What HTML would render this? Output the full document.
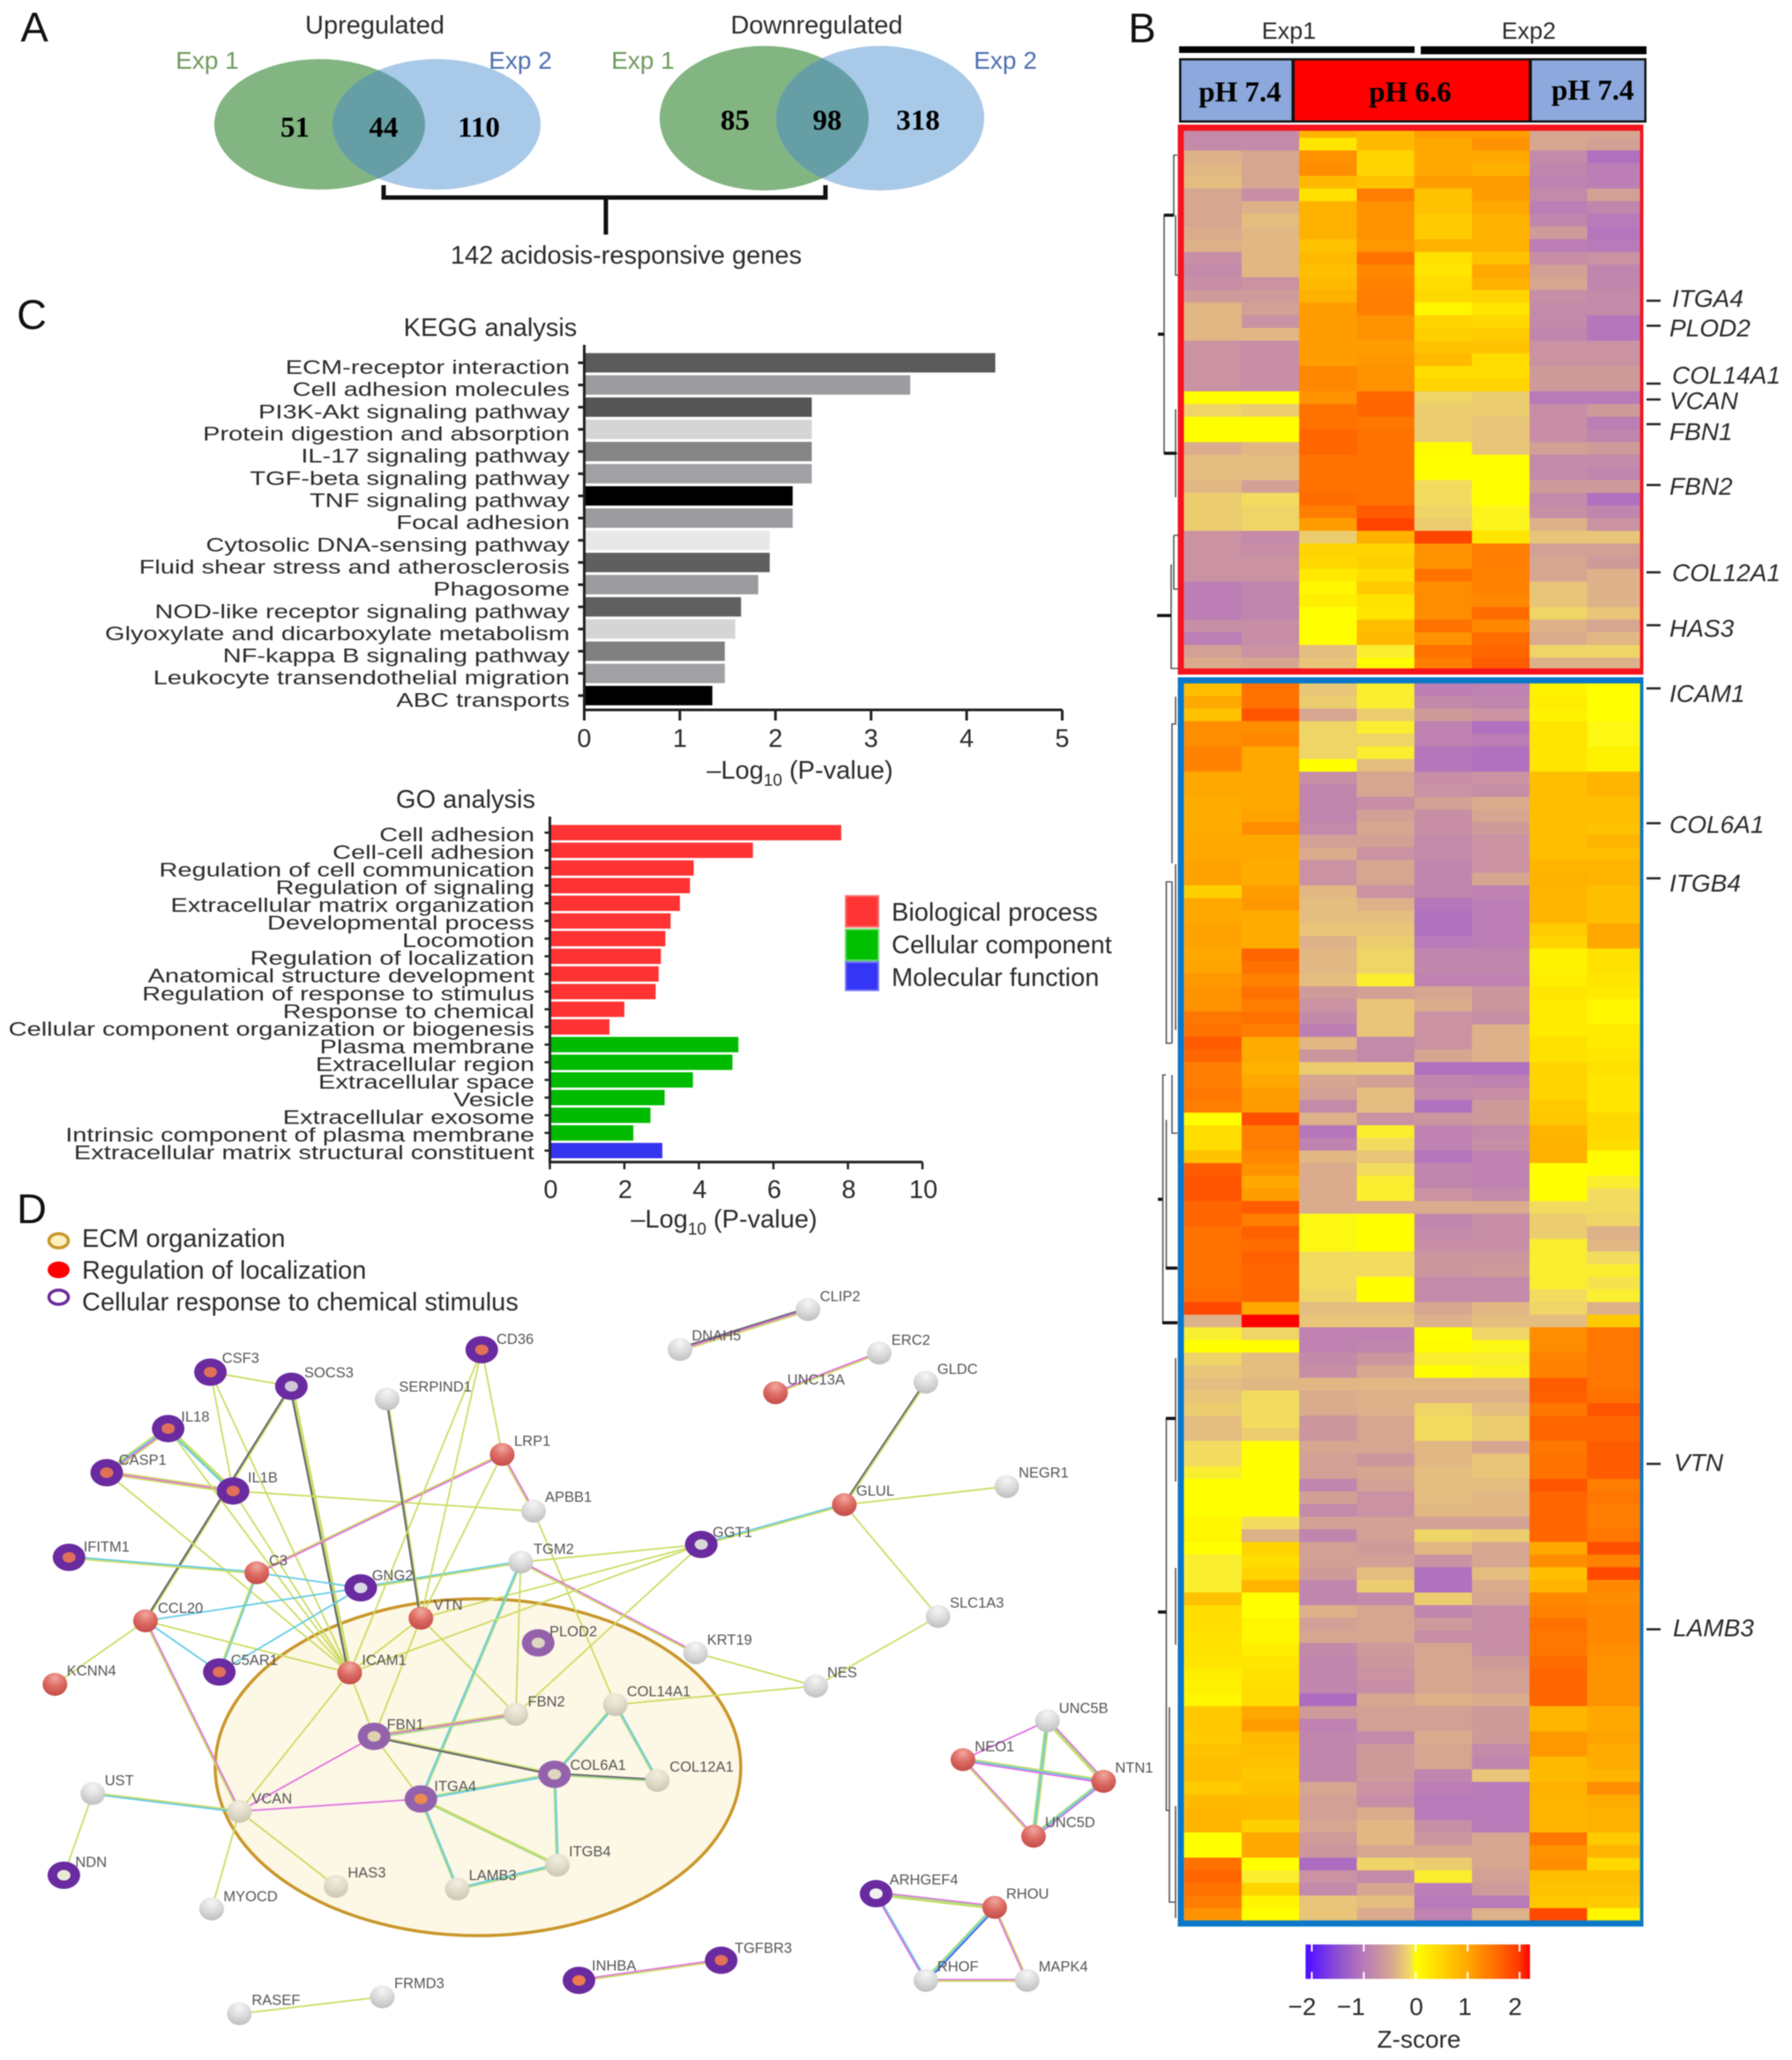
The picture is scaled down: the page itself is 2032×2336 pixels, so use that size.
<!DOCTYPE html>
<html lang="en">
<head>
<meta charset="utf-8">
<title>Acidosis-responsive genes figure</title>
<style>
html,body{margin:0;padding:0;background:#fff;width:2032px;height:2336px;overflow:hidden}
svg{display:block;filter:blur(0.5px)}
text{font-family:"Liberation Sans",Arial,sans-serif;fill:#2b2b2b}
.serif{font-family:"Liberation Serif","Times New Roman",serif;font-weight:bold;fill:#000}
.t29{font-size:29px}
.letter{font-size:47px;fill:#111}
.gene{font-size:28px;font-style:italic}
.nl{font-size:16.5px;fill:#555}
</style>
</head>
<body>
<svg id="fig" xmlns="http://www.w3.org/2000/svg" width="2032" height="2336" viewBox="0 0 2032 2336">
<defs>
<radialGradient id="gGray" cx="50%" cy="22%" r="80%"><stop offset="0" stop-color="#f6f6f6"/><stop offset="0.5" stop-color="#dcdcdc"/><stop offset="1" stop-color="#bdbdbd"/></radialGradient>
<radialGradient id="gBeige" cx="50%" cy="22%" r="80%"><stop offset="0" stop-color="#f3efe0"/><stop offset="0.5" stop-color="#e2dccb"/><stop offset="1" stop-color="#c9c3b0"/></radialGradient>
<radialGradient id="gRed" cx="50%" cy="22%" r="80%"><stop offset="0" stop-color="#f0a8a0"/><stop offset="0.5" stop-color="#dd6a62"/><stop offset="1" stop-color="#c04a48"/></radialGradient>
</defs>

<!-- Panel A -->
<g>
<text class="letter" x="39" y="47" text-anchor="middle">A</text>
<text class="t29" x="425" y="38" text-anchor="middle">Upregulated</text>
<text class="t29" x="926" y="38" text-anchor="middle">Downregulated</text>
<text x="235" y="78" font-size="28" text-anchor="middle" style="fill:#6f9a5c">Exp 1</text>
<text x="590" y="78" font-size="28" text-anchor="middle" style="fill:#4d6fb0">Exp 2</text>
<text x="729" y="78" font-size="28" text-anchor="middle" style="fill:#6f9a5c">Exp 1</text>
<text x="1140" y="78" font-size="28" text-anchor="middle" style="fill:#4d6fb0">Exp 2</text>
<clipPath id="cUp"><ellipse cx="362.5" cy="141" rx="119.5" ry="74"/></clipPath>
<clipPath id="cDown"><ellipse cx="866.5" cy="134" rx="118.5" ry="82"/></clipPath>
<ellipse cx="362.5" cy="141" rx="119.5" ry="74" fill="#82b581"/>
<ellipse cx="495" cy="141" rx="118" ry="74" fill="#a8c9e8"/>
<ellipse cx="495" cy="141" rx="118" ry="74" fill="#659fa5" clip-path="url(#cUp)"/>
<ellipse cx="866.5" cy="134" rx="118.5" ry="82" fill="#82b581"/>
<ellipse cx="998" cy="134" rx="118" ry="82" fill="#a8c9e8"/>
<ellipse cx="998" cy="134" rx="118" ry="82" fill="#659fa5" clip-path="url(#cDown)"/>
<g font-size="33" text-anchor="middle">
<text class="serif" x="334.5" y="155">51</text>
<text class="serif" x="435" y="155">44</text>
<text class="serif" x="543" y="155">110</text>
<text class="serif" x="833.5" y="147">85</text>
<text class="serif" x="938" y="147">98</text>
<text class="serif" x="1041" y="147">318</text>
</g>
<path d="M435 210 V224 H936 V210 M687 224 V266" fill="none" stroke="#111" stroke-width="5"/>
<text class="t29" x="710" y="299" text-anchor="middle">142 acidosis-responsive genes</text>
</g>

<!-- Panel C static -->
<text class="letter" x="36" y="373" text-anchor="middle">C</text>
<text class="t29" x="556" y="381" text-anchor="middle">KEGG analysis</text>
<text class="t29" x="907" y="883" text-anchor="middle">–Log<tspan font-size="19" dy="8">10</tspan><tspan dy="-8"> (P-value)</tspan></text>
<text class="t29" x="528" y="916" text-anchor="middle">GO analysis</text>
<text class="t29" x="821" y="1392" text-anchor="middle">–Log<tspan font-size="19" dy="8">10</tspan><tspan dy="-8"> (P-value)</tspan></text>
<g id="kegg"></g>
<g id="go"></g>
<g>
<rect x="959" y="1016" width="37" height="35" fill="#ff3535" stroke="#ff7070" stroke-width="2"/>
<rect x="959" y="1054" width="37" height="35" fill="#00c000" stroke="#60d860" stroke-width="2"/>
<rect x="959" y="1091" width="37" height="32" fill="#3535f5" stroke="#7a7aff" stroke-width="2"/>
<text class="t29" x="1011" y="1044">Biological process</text>
<text class="t29" x="1011" y="1081">Cellular component</text>
<text class="t29" x="1011" y="1118">Molecular function</text>
</g>

<!-- Panel B static -->
<text class="letter" x="1295" y="48" text-anchor="middle">B</text>
<text x="1461.5" y="44" font-size="27" text-anchor="middle">Exp1</text>
<text x="1733.5" y="44" font-size="27" text-anchor="middle">Exp2</text>
<rect x="1337" y="52.5" width="267" height="7.5" fill="#000"/>
<rect x="1611" y="52.5" width="256" height="9" fill="#000"/>
<g>
<rect x="1337" y="66" width="530" height="73" fill="#111"/>
<rect x="1339.5" y="68.5" width="125" height="68" fill="#8ca8dc"/>
<rect x="1468" y="68.5" width="265.5" height="68" fill="#ff0000"/>
<rect x="1737" y="68.5" width="127.5" height="68" fill="#8ca8dc"/>
<g font-size="33" text-anchor="middle">
<text class="serif" x="1406" y="115">pH 7.4</text>
<text class="serif" x="1599" y="115">pH 6.6</text>
<text class="serif" x="1806" y="113">pH 7.4</text>
</g>
</g>
<g id="heat"></g>
<rect x="1339" y="144.8" width="524.2" height="616.7" fill="none" stroke="#f5141e" stroke-width="7"/>
<rect x="1339" y="771.5" width="524.2" height="1409.7" fill="none" stroke="#0a78c8" stroke-width="7"/>
<rect x="1863.5" y="141" width="8" height="2050" fill="#fff"/>
<path fill="none" stroke="#555" stroke-width="1.6" d="
M1335 176 H1331 V244 H1320 V514 H1335 M1333 244 V312 H1336 M1333 464 V564 M1331 607 H1336 M1331 607 V668 H1336 M1328 640 V758 H1336
M1333 790 V821 H1329 V979 M1329 1000 H1322.5 V1183 H1329 M1329 1000 V1183 M1333 980 V1168 M1322 1219 H1318.6 V1500 H1336 M1329 1219 V1285 H1335 M1322.5 1270 V1438 H1336
M1322.5 1608.5 V2053 H1326 M1333 1540 V1680 M1333 1778 V1865 M1326 1936 V2157 H1332 M1333 2048 V2175"/>
<path fill="none" stroke="#111" stroke-width="3.5" d="M1313 379 H1320 M1312 698 H1328 M1313 1360 H1318 M1322 1438 H1335 M1318 1500 H1335 M1322 1608.5 H1333 M1313 1828 H1322.5 M1320 244 H1331 M1320 514 H1334"/>
<g id="genes"></g>
<g id="cbar"></g>
<text x="1609" y="2322" font-size="28" text-anchor="middle">Z-score</text>

<!-- Panel D static -->
<text class="letter" x="36" y="1387" text-anchor="middle">D</text>
<g>
<ellipse cx="66.5" cy="1407" rx="11" ry="8" fill="#fdf0c0" stroke="#c9962a" stroke-width="3.5"/>
<ellipse cx="66.5" cy="1440" rx="12.5" ry="9.5" fill="#ff0000"/>
<ellipse cx="66.5" cy="1471" rx="11" ry="8" fill="#fff" stroke="#6a2a9a" stroke-width="3.5"/>
<text x="93" y="1414" font-size="29">ECM organization</text>
<text x="93" y="1450" font-size="29">Regulation of localization</text>
<text x="93" y="1486" font-size="29">Cellular response to chemical stimulus</text>
</g>
<ellipse cx="542" cy="2004" rx="298" ry="191" fill="#fdf7e5" stroke="#c9962a" stroke-width="3.5"/>
<g id="net"></g>
</svg>

<script>
// ---------- KEGG data ----------
const keggCategories = ["ECM-receptor interaction","Cell adhesion molecules","PI3K-Akt signaling pathway","Protein digestion and absorption","IL-17 signaling pathway","TGF-beta signaling pathway","TNF signaling pathway","Focal adhesion","Cytosolic DNA-sensing pathway","Fluid shear stress and atherosclerosis","Phagosome","NOD-like receptor signaling pathway","Glyoxylate and dicarboxylate metabolism","NF-kappa B signaling pathway","Leukocyte transendothelial migration","ABC transports"];
const keggValues = [4.30,3.41,2.38,2.38,2.38,2.38,2.18,2.18,1.94,1.94,1.82,1.64,1.58,1.47,1.47,1.34];
const keggTicks = [0,1,2,3,4,5];
const keggShades = ["#5a5a5a","#9b9ba0","#555555","#d5d5d5","#858585","#a0a0a5","#000000","#9b9ba0","#e8e8e8","#5f5f5f","#9b9ba0","#606060","#d5d5d5","#808080","#a0a0a5","#000000"];

// ---------- GO data ----------
const goCategories = ["Cell adhesion","Cell-cell adhesion","Regulation of cell communication","Regulation of signaling","Extracellular matrix organization","Developmental process","Locomotion","Regulation of localization","Anatomical structure development","Regulation of response to stimulus","Response to chemical","Cellular component organization or biogenesis","Plasma membrane","Extracellular region","Extracellular space","Vesicle","Extracellular exosome","Intrinsic component of plasma membrane","Extracellular matrix structural constituent"];
const goValues = [7.82,5.45,3.86,3.76,3.49,3.24,3.10,2.98,2.92,2.84,2.0,1.6,5.06,4.9,3.84,3.08,2.7,2.24,3.02];
const goGroups = ["bp","bp","bp","bp","bp","bp","bp","bp","bp","bp","bp","bp","cc","cc","cc","cc","cc","cc","mf"];
const goTicks = [0,2,4,6,8,10];

// ---------- Heatmap data (z-scores; columns are 8 samples) ----------
const upperClusterRows = [
[-.8,-.8,.9,.8,1.1,1.1,-.5,-.5],[-.8,-.8,.3,.8,1,1.2,-.5,-.55],[-.4,-.5,1.2,.5,1,1,-.8,-1.1],[-.35,-.5,1.25,.5,1,.9,-.85,-.95],
[-.3,-.5,.8,.7,1.1,1.1,-.9,-.95],[-.5,-.75,.35,1.4,.7,1.1,-.8,-.55],[-.5,-.4,.9,1.2,.7,1,-.95,-.85],[-.5,-.3,.9,1.2,.6,.9,-.85,-1],
[-.45,-.35,.9,1.2,.6,.9,-.6,-1.05],[-.4,-.35,.7,1.15,.9,.9,-.95,-1],[-.75,-.35,.8,1.5,.35,.7,-.75,-.7],[-.8,-.35,.75,1.3,.3,1,-.55,-.85],
[-.75,-.7,.8,1.35,.4,.9,-.5,-.85],[-.6,-.6,.9,1.4,.45,.5,-.75,-.8],[-.35,-.55,1.1,1.4,.1,.3,-.8,-.8],[-.35,-.7,1.1,1.2,.5,.45,-.8,-1.05],
[-.35,-.35,1.1,1.2,.55,.6,-.85,-1.05],[-.7,-.75,1.1,1.1,.7,.7,-.7,-.7],[-.7,-.75,1.1,1.15,.8,.4,-.7,-.7],[-.7,-.75,1.3,1.2,.4,.4,-.6,-.6],
[-.7,-.75,1.3,1.2,.5,.5,-.6,-.6],[0,0,1.2,1.6,-.15,-.2,-1,-1],[-.15,-.2,1.5,1.6,-.2,-.2,-.75,-.6],[0,0,1.5,1.45,-.2,-.25,-.75,-.95],
[0,0,1.6,1.5,-.2,-.25,-.75,-.85],[-.45,-.35,1.6,1.5,.05,-.25,-.55,-.6],[-.3,-.3,1.5,1.5,0,0,-.8,-.8],[-.3,-.3,1.5,1.5,0,0,-.8,-.85],
[-.35,-.55,1.5,1.5,-.1,0,-.6,-.6],[-.2,-.1,1.55,1.5,-.1,0,-.8,-1.1],[-.2,-.15,1.4,1.7,-.15,-.03,-.75,-.85],[-.2,-.15,1.1,1.9,-.2,-.03,-.4,-.7],
[-.7,-.8,-.2,.9,1.9,.3,-.25,-.25],[-.7,-.75,.5,.5,1.2,1.4,-.55,-.55],[-.7,-.7,.45,.55,1.2,1.4,-.5,-.6],[-.7,-.7,.25,.4,1.5,1.35,-.5,-.4],
[-.95,-.85,.1,.6,1.25,1.35,-.25,-.4],[-.95,-.85,.2,.35,1.25,1.3,-.25,-.4],[-.95,-.85,0,.3,1.25,1.55,-.15,-.25],[-.75,-.75,0,.75,1.5,1.3,-.4,-.5],
[-.95,-.75,0,.8,1.2,1.55,-.45,-.35],[-.55,-.7,-.3,-.05,1.5,1.6,-.15,-.15],[-.45,-.5,-.25,.05,1.4,1.7,-.4,-.4]
];
const lowerClusterRows = [
[.75,1.5,-.25,-.05,-.95,-.9,.15,0],[1,1.5,-.2,-.05,-.8,-.85,.2,0],[.7,1.75,-.5,-.2,-.6,-.7,.15,0],[1.25,1.25,-.15,-.05,-.9,-1.1,.3,-.02],
[1.25,1.3,-.15,-.15,-.9,-.95,.3,-.02],[1.35,1,-.15,-.05,-1.05,-1.1,.3,.15],[1.35,1,0,-.3,-1.05,-1.1,.3,.15],[1,1,-.75,-.5,-.75,-.7,.75,.85],
[1,1,-.85,-.5,-.7,-.75,.75,.85],[.95,1,-.85,-.75,-.55,-.45,.75,.75],[.95,1.05,-.85,-.55,-.75,-.5,.75,.75],[.95,1.25,-.8,-.5,-.75,-.6,.75,.7],
[1,1,-.55,-.55,-.8,-.7,.75,.85],[1,1,-.45,-.7,-.8,-.7,.75,.75],[1.05,.95,-.7,-.5,-.85,-.7,.85,.85],[1.05,.95,-.7,-.5,-.85,-.5,.9,.85],
[.55,1.1,-.35,-.7,-.85,-.9,.85,.75],[1,1.15,-.3,-.4,-1.05,-.95,.85,.75],[1,.95,-.3,-.3,-1.1,-.95,.85,.75],[1.05,.95,-.25,-.25,-1.1,-.95,.6,1],
[1.05,.95,-.4,-.2,-1,-.95,.5,1],[1,1.6,-.35,-.15,-.85,-.85,.15,.35],[1.05,1.5,-.35,-.15,-.85,-.85,.15,.35],[1.15,1.35,-.3,-.05,-.9,-.9,.2,.3],
[1.2,1.5,-.6,-.55,-.5,-.65,.3,.25],[1.2,1.4,-.7,-.25,-.45,-.65,.25,.1],[1.45,1.5,-.8,-.25,-.7,-.75,.25,.1],[1.5,1.4,-.95,-.25,-.7,-.4,.25,.25],
[1.7,.95,-.35,-.8,-.7,-.4,.35,.25],[1.6,.95,-.65,-.8,-.5,-.4,.35,.3],[1.4,.9,-.2,-.2,-1.1,-1.1,.5,.35],[1.4,1,-.5,-.55,-.85,-.9,.5,.3],
[1.45,1.1,-.55,-.3,-.8,-.75,.5,.3],[1.4,1.1,-.8,-.3,-1.1,-.6,.6,.3],[0,1.8,-.4,-.7,-.65,-.6,.65,.45],[.4,1.4,-1.05,-.05,-.9,-.8,.85,.45],
[.4,1.4,-.9,-.1,-.9,-.75,.9,.4],[.7,1.3,-.35,-.25,-1.05,-.9,.9,.05],[1.7,1.2,-.45,-.1,-.85,-.9,0,.05],[1.75,1,-.45,-.05,-.85,-.9,0,-.05],
[1.75,1.1,-.45,-.05,-.7,-.8,0,-.1],[1.6,1.7,-.45,-.45,-.45,-.45,-.1,-.1],[1.6,1.4,-.02,0,-.85,-.75,-.2,-.15],[1.5,1.65,-.02,0,-.8,-.75,-.2,-.4],
[1.5,1.55,-.02,0,-.75,-.75,-.05,-.35],[1.5,1.65,-.1,-.1,-.65,-.65,-.05,-.1],[1.5,1.6,-.1,-.1,-.65,-.6,-.05,-.05],[1.5,1.6,-.1,0,-.8,-.8,-.05,-.08],
[1.55,1.6,-.15,0,-.8,-.8,-.1,-.05],[1.85,1,-.3,-.3,-.5,-.35,-.15,-.4],[-.4,2.2,-.25,-.25,-.4,-.3,-.3,.6],[-.05,-.15,-.9,-.9,0,-.15,1.25,1.45],
[0,0,-.9,-.85,.03,-.02,1.25,1.45],[-.15,-.3,-.8,-.65,-.05,-.05,1.35,1.45],[-.25,-.3,-.75,-.5,0,-.03,1.35,1.45],[-.3,-.35,-.35,-.35,-.35,-.35,1.7,1.45],
[-.25,-.1,-.45,-.4,-.4,-.4,1.65,1.5],[-.2,-.1,-.45,-.4,-.15,-.3,1.45,1.75],[-.3,-.1,-.65,-.5,-.1,-.2,1.6,1.6],[-.3,-.2,-.65,-.5,-.1,-.2,1.6,1.6],
[-.1,0,-.5,-.5,-.35,-.5,1.45,1.7],[-.1,0,-.55,-.65,-.35,-.25,1.5,1.7],[-.05,0,-.55,-.5,-.3,-.25,1.5,1.7],[0,0,-.85,-.55,-.3,-.3,1.75,1.4],
[0,0,-.55,-.7,-.3,-.35,1.6,1.45],[0,0,-.8,-.7,-.35,-.35,1.6,1.4],[.1,-.1,-.55,-.55,-.55,-.55,1.6,1.4],[.1,-.4,-.85,-.55,-.15,-.2,1.6,1.45],
[0,.5,-.55,-.6,-.35,-.5,1,1.8],[-.05,.4,-.55,-.55,-.7,-.5,1.25,1.35],[-.05,.5,-.6,-.3,-1.1,-.3,.75,1.85],[-.05,.85,-.85,-.2,-1.1,-.45,.85,1.3],
[.7,0,-.85,-.8,-.2,-.5,1.3,1.25],[.4,0,-.4,-.5,-.85,-.75,1.35,1.3],[.4,.1,-.55,-.5,-.6,-.75,1.5,1.3],[.35,.1,-.5,-.5,-.75,-.75,1.45,1.3],
[.35,.2,-.8,-.6,-.5,-.75,1.45,1.25],[.3,.3,-.85,-.65,-.5,-.6,1.55,1.2],[.2,.35,-.85,-.7,-.5,-.55,1.6,1.2],[.15,.4,-.85,-.75,-.5,-.55,1.6,1.2],
[.1,.4,-1.15,-.5,-.4,-.45,1.6,1.2],[.65,1,-.6,-.55,-.55,-.6,.85,1],[.65,1.1,-.9,-.55,-.55,-.6,.85,1],[.6,.8,-.85,-.8,-.45,-.6,1.15,1.05],
[.7,.75,-.85,-.6,-.5,-.8,1.15,.95],[.75,.7,-.85,-.6,-.5,-.85,.8,.95],[.75,.65,-.85,-.6,-.85,-.25,.8,.85],[.6,.7,-.5,-.7,-.95,-1,.9,1.25],
[.8,.8,-.55,-.75,-1,-1,.85,.95],[.85,.8,-.55,-.45,-1,-1,.85,.9],[.85,.55,-.5,-.35,-.75,-1,.85,.9],[0,1,-.6,-.35,-.65,-.5,1.45,.6],
[0,1,-.65,-.5,-.5,-.5,1.2,.85],[1.5,0,-1.15,-.15,-.2,-.5,1.25,.45],[1.6,-.05,-.7,-.8,-.05,-.55,.75,.75],[1.5,.5,-.8,-.5,-.95,-.6,.7,.7],
[1.4,.1,-.25,-.3,-1,-1,.65,.6],[1.2,0,-.25,-.45,-.9,-.4,1.85,.1]
];
const zTicks = [-2,-1,0,1,2];
const zTickLabels = ["−2","−1","0","1","2"];
const geneNames = ["ITGA4","PLOD2","COL14A1","VCAN","FBN1","FBN2","COL12A1","HAS3","ICAM1","COL6A1","ITGB4","VTN","LAMB3"];

// ---------- Network data ----------
const networkNodes = [
["CSF3",238.6,1556,"p","#e0705a",251.7,1539.5],["SOCS3",330.4,1572,"p","#cfc6d8",345,1556],["CD36",546.3,1530.6,"p","#e0705a",563,1518],
["SERPIND1",439,1586.5,"g","",452.4,1572],["LRP1",569.5,1649.4,"r","",583,1633.5],["APBB1",605,1713.6,"g","",618,1697],
["IL18",190.7,1620,"p","#e0705a",205.4,1606],["CASP1",121,1670,"p","#e0705a",134.7,1655],["IL1B",264.3,1690.7,"p","#e0705a",281,1675],
["IFITM1",78.3,1766,"p","#e0705a",94.7,1753.6],["C3",291.2,1783.5,"r","",305,1769],["GNG2",409,1800.6,"p","#d8d8e4",421.7,1786],
["TGM2",590.5,1771.4,"g","",605,1756],["CCL20",165,1838,"r","",179,1823],["VTN",477.3,1835,"r","",491.6,1819.7],
["KCNN4",62.3,1910,"r","",75.8,1894],["C5AR1",248.7,1896,"p","#e0705a",261.8,1882],["ICAM1",396.5,1897,"r","",410.4,1882],
["PLOD2",610.3,1863,"l","#ded6c0",623,1849.5],["FBN2",585,1944,"b","",598.5,1929],["FBN1",424.2,1969,"l","#ded0b0",438.6,1955],
["COL6A1",628.8,2012,"l","#ded6c0",646.5,2001],["ITGA4",477.3,2040,"l","#ec8a50",492.4,2025],["VCAN",271.5,2054,"b","",285.4,2039],
["UST",105.2,2033.8,"g","",118.7,2018.5],["NDN",72.4,2126.5,"p","#e8e8d8",85.4,2111],["MYOCD",240,2164.7,"g","",253.4,2150],
["HAS3",381,2139,"b","",394.4,2123],["LAMB3",518.5,2142,"b","",531.6,2126],["ITGB4",632,2115,"b","",645,2099],
["RASEF",271.5,2283.5,"g","",285.4,2267.6],["FRMD3",433.5,2264.4,"g","",447,2248.5],["CLIP2",916.2,1485,"g","",929.7,1469.7],
["DNAH5",771,1530.3,"g","",784.4,1514],["ERC2",997,1534.3,"g","",1010.8,1519],["UNC13A",879.4,1579.4,"r","",892.8,1564],
["GLDC",1049.8,1567.4,"g","",1062.8,1552],["NEGR1",1141.7,1685.7,"g","",1155,1669.7],["GLUL",957.4,1706.3,"r","",970.9,1690],
["GGT1",795.2,1751.4,"p","#d8d8d8",808,1737],["SLC1A3",1063.7,1833,"g","",1077,1817],["KRT19",788.7,1874.3,"g","",801.8,1858.9],
["NES",925,1912,"g","",938,1896],["COL14A1",697.7,1933,"b","",710.7,1917.7],["COL12A1",745.4,2018.9,"b","",759.3,2002.9],
["UNC5B",1187.7,1951.4,"g","",1200.7,1936.6],["NEO1",1091.9,1995.4,"r","",1105.3,1980],["NTN1",1251.4,2020,"r","",1264.5,2004],
["UNC5D",1172,2082.3,"r","",1185,2066],["ARHGEF4",993.4,2147.4,"p","#f0f0f0",1008.6,2130.9],["RHOU",1127.9,2162.9,"r","",1140.9,2146.9],
["RHOF",1049.8,2245.7,"g","",1062.8,2229.7],["MAPK4",1164.7,2245.7,"g","",1177.7,2229.7],["INHBA",656.5,2245.7,"p","#ec7a50",671,2228.6],
["TGFBR3",817.8,2222.9,"p","#e0705a",833,2208.6]
];
const networkEdges = [
["CSF3","SOCS3","y"],["CSF3","IL1B","y"],["CSF3","ICAM1","y"],["SOCS3","ICAM1","yyd"],["SOCS3","CCL20","yd"],
["IL18","CASP1","ypcy"],["IL18","IL1B","ygc"],["CASP1","IL1B","ypy"],["CASP1","ICAM1","y"],["IL18","ICAM1","y"],["IL1B","ICAM1","y"],["IL1B","APBB1","y"],
["IFITM1","C3","cy"],["C3","LRP1","yp"],["C3","GNG2","c"],["C3","C5AR1","cy"],["C3","ICAM1","y"],
["CCL20","C5AR1","c"],["CCL20","GNG2","c"],["CCL20","ICAM1","y"],["CCL20","KCNN4","y"],["CCL20","VCAN","py"],["C5AR1","GNG2","c"],["GNG2","TGM2","cy"],
["SERPIND1","VTN","yd"],["CD36","VTN","y"],["CD36","ICAM1","y"],["CD36","LRP1","y"],["LRP1","VTN","y"],["LRP1","APBB1","py"],["APBB1","COL14A1","y"],
["VTN","ICAM1","y"],["VTN","FBN1","y"],["VTN","FBN2","y"],["VTN","GGT1","y"],["TGM2","ITGA4","gc"],["TGM2","FBN2","y"],["TGM2","KRT19","py"],["TGM2","GGT1","y"],
["ICAM1","VCAN","y"],["ICAM1","FBN1","y"],["FBN1","FBN2","ypg"],["FBN1","COL6A1","yd"],["FBN1","ITGA4","y"],["FBN1","VCAN","p"],
["ITGA4","VCAN","p"],["ITGA4","COL6A1","gc"],["ITGA4","LAMB3","cg"],["ITGA4","ITGB4","yg"],["COL6A1","COL14A1","gc"],["COL6A1","COL12A1","dg"],["COL6A1","ITGB4","cg"],
["COL14A1","COL12A1","cg"],["COL14A1","NES","y"],["LAMB3","ITGB4","cg"],["UST","VCAN","yc"],["UST","NDN","y"],["VCAN","HAS3","y"],["VCAN","MYOCD","y"],
["RASEF","FRMD3","y"],["GGT1","GLUL","cy"],["GGT1","FBN2","y"],["GGT1","ICAM1","y"],["GLUL","GLDC","dy"],["GLUL","NEGR1","y"],["GLUL","SLC1A3","y"],
["SLC1A3","NES","y"],["KRT19","NES","y"],["DNAH5","CLIP2","dpy"],["UNC13A","ERC2","py"],
["UNC5B","NEO1","p"],["UNC5B","NTN1","pgy"],["UNC5B","UNC5D","ycg"],["NEO1","NTN1","ycp"],["NEO1","UNC5D","py"],["NTN1","UNC5D","pcg"],
["ARHGEF4","RHOU","pgy"],["ARHGEF4","RHOF","cp"],["RHOU","RHOF","bcg"],["RHOU","MAPK4","yp"],["RHOF","MAPK4","py"],["INHBA","TGFBR3","py"]
];

// ---------- Drawing ----------
const NS = "http://www.w3.org/2000/svg";
function mk(parent, tag, attrs, txt) {
  const el = document.createElementNS(NS, tag);
  for (const k in attrs) el.setAttribute(k, attrs[k]);
  if (txt !== undefined) el.textContent = txt;
  parent.appendChild(el);
  return el;
}
const $ = id => document.getElementById(id);
const labelSquash = 0.78;

// KEGG axes
const xKegg = v => 662.5 + v * 108.4;
const yKegg = i => 411.4 + i * 25.16;
const keggG = $("kegg");
keggCategories.forEach((c, i) => {
  const bar = mk(keggG, "rect", {x: xKegg(0), y: yKegg(i) - 11, width: xKegg(keggValues[i]) - xKegg(0), height: 22, fill: keggShades[i]});
  
  
  const lab = mk(keggG, "text", {transform: `translate(646,${yKegg(i) + 12.6}) scale(1,${labelSquash})`, "text-anchor": "end", "font-size": 29}, c);
  
  
  const tick = mk(keggG, "line", {x1: xKegg(0) - 7, x2: xKegg(0), y1: yKegg(i), y2: yKegg(i), stroke: "#222", "stroke-width": 3});
  
  
});
const keggAxis = mk(keggG, "path", {d: `M${xKegg(0)} 391 V805 H${xKegg(5)}`, fill: "none", stroke: "#222", "stroke-width": 3});


keggTicks.forEach(t => {
  const tick = mk(keggG, "line", {x1: xKegg(t), x2: xKegg(t), y1: 805, y2: 817, stroke: "#222", "stroke-width": 3});
  
  
  const lab = mk(keggG, "text", {x: xKegg(t), y: 847, "text-anchor": "middle", "font-size": 29}, t);
  
  
});

// GO axes
const xGo = v => 623.5 + v * 42.25;
const yGo = i => 944.2 + i * 20.03;
const goColor = {bp: "#ff3333", cc: "#00bb00", mf: "#3535f0"};
const goG = $("go");
goCategories.forEach((c, i) => {
  const bar = mk(goG, "rect", {x: xGo(0), y: yGo(i) - 8.7, width: xGo(goValues[i]) - xGo(0), height: 17.4, fill: goColor[goGroups[i]]});
  
  
  const lab = mk(goG, "text", {transform: `translate(606,${yGo(i) + 9.8}) scale(1,${labelSquash})`, "text-anchor": "end", "font-size": 29}, c);
  
  
  const tick = mk(goG, "line", {x1: xGo(0) - 6, x2: xGo(0), y1: yGo(i), y2: yGo(i), stroke: "#222", "stroke-width": 2.5});
  
  
});
const goAxis = mk(goG, "path", {d: `M${xGo(0)} 926 V1317.7 H${xGo(10)}`, fill: "none", stroke: "#222", "stroke-width": 3});


goTicks.forEach(t => {
  const tick = mk(goG, "line", {x1: xGo(t), x2: xGo(t), y1: 1317.7, y2: 1326, stroke: "#222", "stroke-width": 2.5});
  
  
  const lab = mk(goG, "text", {x: xGo(t) + 1, y: 1358.5, "text-anchor": "middle", "font-size": 29}, t);
  
  
});

// Heatmap
const colorStops = [[-2.12,"#4a10ff"],[-2,"#5a18ff"],[-1.5,"#8c50d0"],[-1,"#b97ab9"],[-.6,"#cf9a9a"],[-.3,"#e4bd80"],[-.1,"#f2dc60"],[0,"#ffff00"],[.5,"#ffd400"],[1,"#ffa800"],[1.5,"#ff7200"],[2,"#ff3800"],[2.2,"#ff0000"]];
function hex(h){return [1,3,5].map(i=>parseInt(h.substr(i,2),16));}
function zColor(z){
  if (z <= colorStops[0][0]) return colorStops[0][1];
  for (let i = 1; i < colorStops.length; i++) {
    if (z <= colorStops[i][0]) {
      const a = colorStops[i-1], b = colorStops[i], t = (z - a[0]) / (b[0] - a[0]);
      const ca = hex(a[1]), cb = hex(b[1]);
      return "rgb(" + ca.map((v,k)=>Math.round(v + (cb[k]-v)*t)).join(",") + ")";
    }
  }
  return colorStops[colorStops.length-1][1];
}
const xHeat = j => 1342.6 + j * 65.3;
const yUpper = i => 141.8 + i * 14.38;
const yLower = i => 774.8 + i * 14.32;
const heatG = $("heat");
upperClusterRows.forEach((row, i) => row.forEach((z, j) => {
  const cell = mk(heatG, "rect", {x: xHeat(j), y: yUpper(i), width: 65.8, height: 14.9, fill: zColor(z)});
  
  
}));
lowerClusterRows.forEach((row, i) => row.forEach((z, j) => {
  const cell = mk(heatG, "rect", {x: xHeat(j), y: yLower(i), width: 65.8, height: 14.8, fill: zColor(z)});
  
  
}));

// Gene annotations
const geneTickY = {ITGA4:341,PLOD2:369.4,COL14A1:435,VCAN:453,FBN1:481,FBN2:550,COL12A1:649,HAS3:709,ICAM1:780.6,COL6A1:933.5,ITGB4:996,VTN:1660,LAMB3:1847.6};
const geneLabelY = {ITGA4:338,PLOD2:371.4,COL14A1:425,VCAN:454,FBN1:489,FBN2:551,COL12A1:649,HAS3:712,ICAM1:786,COL6A1:934.5,ITGB4:1001,VTN:1658,LAMB3:1845.6};
const geneLabelX = {ITGA4:1896,PLOD2:1893,COL14A1:1896,VCAN:1893,FBN1:1893,FBN2:1893,COL12A1:1896,HAS3:1893,ICAM1:1893,COL6A1:1893,ITGB4:1893,VTN:1898,LAMB3:1897};
const genesG = $("genes");
geneNames.forEach(g => {
  const tick = mk(genesG, "line", {x1: 1867, x2: 1883, y1: geneTickY[g], y2: geneTickY[g], stroke: "#222", "stroke-width": 2.5});
  
  
  const lab = mk(genesG, "text", {x: geneLabelX[g], y: geneLabelY[g] + 10, class: "gene"}, g);
  
  
});

// Colorbar
const xBar = z => 1605.3 + z * 58.9;
const cbG = $("cbar");
const defs = document.querySelector("defs");
const grad = mk(defs, "linearGradient", {id: "zGrad", gradientUnits: "userSpaceOnUse", x1: xBar(-2.12), x2: xBar(2.2), y1: 0, y2: 0});
colorStops.forEach(s => mk(grad, "stop", {offset: (s[0] + 2.12) / 4.32, "stop-color": s[1]}));
const cbRect = mk(cbG, "rect", {x: xBar(-2.12), y: 2205, width: xBar(2.2) - xBar(-2.12), height: 39, fill: "url(#zGrad)"});


const cbLabelX = [1476.5,1532,1606,1661,1718];
zTicks.forEach((t, i) => {
  const tk = mk(cbG, "path", {d: `M${xBar(t)} 2205 v8 M${xBar(t)} 2236 v8`, stroke: "#fff", "stroke-width": 2, fill: "none"});
  
  
  const lab = mk(cbG, "text", {x: cbLabelX[i], y: 2285, "text-anchor": "middle", "font-size": 28}, zTickLabels[i]);
  
  
});

// Network
const edgeColor = {y: "#cbdc62", g: "#a6dc84", c: "#62cbe6", p: "#e070e0", d: "#666a70", b: "#4a5ae8"};
const netG = $("net");
const nodeIndex = {};
networkNodes.forEach(n => { nodeIndex[n[0]] = n; });
networkEdges.forEach(e => {
  const a = nodeIndex[e[0]], b = nodeIndex[e[1]], kinds = e[2].split("");
  const dx = b[1] - a[1], dy = b[2] - a[2], len = Math.hypot(dx, dy) || 1;
  const nx = -dy / len, ny = dx / len, step = 1.7;
  kinds.forEach((k, i) => {
    const o = (i - (kinds.length - 1) / 2) * step;
    const ln = mk(netG, "line", {x1: a[1] + nx*o, y1: a[2] + ny*o, x2: b[1] + nx*o, y2: b[2] + ny*o, stroke: edgeColor[k], "stroke-width": k === "d" ? 2.2 : 1.8});
    
    
  });
});
const nodeFill = {g: "url(#gGray)", b: "url(#gBeige)", r: "url(#gRed)"};
const ringFill = {p: "#6a2aa0", l: "#9462ac"};
networkNodes.forEach(n => {
  const kind = n[3];
  if (kind === "p" || kind === "l") {
    const ring = mk(netG, "ellipse", {cx: n[1], cy: n[2], rx: 18.5, ry: 15.5, fill: ringFill[kind]});
    
    
    const core = mk(netG, "ellipse", {cx: n[1], cy: n[2], rx: 7.5, ry: 6, fill: n[4]});
    
    
  } else {
    const node = mk(netG, "ellipse", {cx: n[1], cy: n[2], rx: 14, ry: 13, fill: nodeFill[kind]});
    
    
  }
  const lab = mk(netG, "text", {x: n[5], y: n[6] + 6, class: "nl"}, n[0]);
  
  
});
</script>
</body>
</html>
